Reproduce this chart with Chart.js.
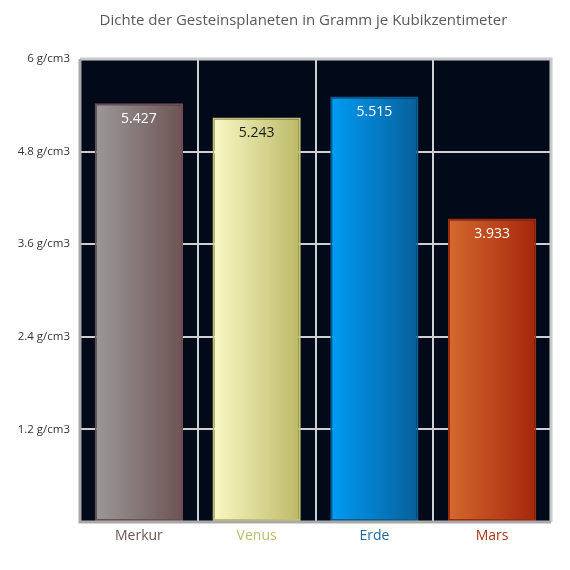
<!DOCTYPE html>
<html>
<head>
<meta charset="utf-8">
<script src="https://cdn.jsdelivr.net/npm/chart.js@4"></script>
<style>
	html, body { margin: 0; padding: 0; background: #fff; }
	#wrap { width: 570px; height: 570px; }
</style>
</head>
<body>
<div id="wrap"><canvas id="plot" width="570" height="570"></canvas></div>
<script>
const planets = ['Merkur', 'Venus', 'Erde', 'Mars'];
const density = [5.427, 5.243, 5.515, 3.933];
const leftColors = ['#9c9999', '#fbf9c6', '#009cf5', '#d4692f'];
const rightColors = ['#6e5353', '#bbb967', '#075f99', '#a5260b'];
const borderColors = ['#6a5050', '#c2c070', '#0a5a90', '#9a2a10'];
const labelColors = ['#6b5757', '#bdbb6e', '#1e68a6', '#ae3014'];
const valueColors = ['#ffffff', '#1a1a1a', '#ffffff', '#ffffff'];

const font = "'Open Sans', 'Noto Sans', sans-serif";

const barGradient = (ctx) => {
	const chart = ctx.chart;
	const x = chart.scales.x;
	if (!chart.chartArea || !x) {
		return leftColors[ctx.dataIndex];
	}
	const i = ctx.dataIndex;
	const center = x.getPixelForValue(i);
	const half = (x.width / planets.length) * 0.75 / 2;
	const g = chart.ctx.createLinearGradient(center - half, 0, center + half, 0);
	g.addColorStop(0, leftColors[i]);
	g.addColorStop(1, rightColors[i]);
	return g;
};

// dark plot background and grey frame
const frame = {
	id: 'frame',
	afterLayout(chart) {
		// title sits a bit right of the canvas centre in the original
		if (chart.titleBlock) {
			chart.titleBlock.left = 56;
		}
	},
	beforeDraw(chart) {
		const {ctx, chartArea: a} = chart;
		ctx.save();
		ctx.fillStyle = '#020a19';
		ctx.fillRect(a.left, a.top, a.right - a.left, a.bottom - a.top);
		ctx.restore();
	},
	afterDraw(chart) {
		const {ctx, chartArea: a} = chart;
		ctx.save();
		ctx.lineWidth = 3;
		ctx.strokeStyle = '#c9c9c9';
		ctx.beginPath();
		ctx.moveTo(a.left, a.top);
		ctx.lineTo(a.right, a.top);
		ctx.lineTo(a.right, a.bottom);
		ctx.stroke();
		ctx.strokeStyle = '#a9a9a9';
		ctx.beginPath();
		ctx.moveTo(a.left, a.top);
		ctx.lineTo(a.left, a.bottom);
		ctx.lineTo(a.right, a.bottom);
		ctx.stroke();
		ctx.restore();
	}
};

// value labels inside the top of each bar
const valueLabels = {
	id: 'valueLabels',
	afterDatasetsDraw(chart) {
		const {ctx} = chart;
		const meta = chart.getDatasetMeta(0);
		ctx.save();
		ctx.font = `14px ${font}`;
		ctx.textAlign = 'center';
		ctx.textBaseline = 'middle';
		meta.data.forEach((bar, i) => {
			ctx.fillStyle = valueColors[i];
			ctx.fillText(density[i].toFixed(3), bar.x, bar.y + 16);
		});
		ctx.restore();
	}
};

new Chart(document.getElementById('plot'), {
	type: 'bar',
	data: {
		labels: planets,
		datasets: [{
			data: density,
			backgroundColor: barGradient,
			borderColor: borderColors,
			borderWidth: 2,
			borderSkipped: false,
			categoryPercentage: 1,
			barPercentage: 0.75,
		}]
	},
	options: {
		responsive: false,
		animation: false,
		layout: {padding: {left: 0, right: 19, top: 0, bottom: 0}},
		plugins: {
			legend: {display: false},
			tooltip: {enabled: false},
			title: {
				display: true,
				text: 'Dichte der Gesteinsplaneten in Gramm je Kubikzentimeter',
				color: '#595959',
				font: {family: font, size: 15, weight: 'normal'},
				padding: {top: 12, bottom: 29},
			}
		},
		scales: {
			x: {
				offset: true,
				grid: {
					offset: true,
					color: '#cfcfcf',
					lineWidth: 2,
					drawTicks: false,
				},
				border: {display: false},
				ticks: {
					color: labelColors,
					font: {family: font, size: 14},
					padding: 6,
				},
				afterFit(scale) { scale.height = 48; },
			},
			y: {
				min: 0,
				max: 6,
				grid: {
					color: '#cfcfcf',
					lineWidth: 2,
					drawTicks: false,
				},
				border: {display: false},
				ticks: {
					stepSize: 1.2,
					color: '#333',
					font: {family: font, size: 11.5},
					padding: 10,
					callback: (v) => v === 0 ? '' : `${+v.toFixed(1)} g/cm3`,
				},
				afterFit(scale) { scale.width = 80; },
			}
		}
	},
	plugins: [frame, valueLabels]
});
</script>
</body>
</html>
